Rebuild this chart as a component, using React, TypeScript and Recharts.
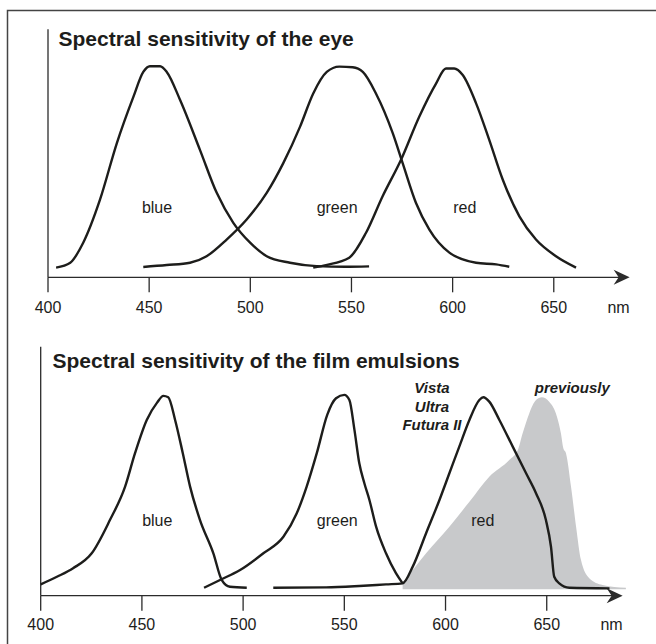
import React from 'react';
import {
  ComposedChart,
  Line,
  Area,
  XAxis,
  YAxis,
  ReferenceLine,
  ReferenceDot,
} from 'recharts';

const FONT = '"Liberation Sans", Arial, Helvetica, sans-serif';
const INK = '#1d1d1b';
const AXIS = '#2b2b2b';
const GREY = '#c8c9cb';

const TICKS = [400, 450, 500, 550, 600, 650];
const UNIT_AT = 682;
const AXIS_END = 687.5;
const X_DOMAIN: [number, number] = [400, 690];

// [wavelength nm, relative sensitivity %]
const eyeBlue = [
  [404, 4.6], [411, 6.9], [417.4, 16.4], [425.7, 36.8], [434, 63.5], [442.2, 85.5],
  [447.1, 97.3], [450.4, 100], [455.4, 100], [458.7, 97.3], [465.3, 84], [475.1, 60.4],
  [483.4, 40], [491.6, 25.8], [499.9, 16.4], [508.1, 10], [519.6, 6.9], [532.8, 5.3],
  [546.8, 5], [558.7, 5.2],
];
const eyeGreen = [
  [447.1, 4.9], [458.7, 5.8], [470.2, 6.9], [478.4, 10], [488.3, 17.9], [498.2, 27.4],
  [508.1, 40], [516.3, 54.1], [524.6, 71.4], [531.1, 87.1], [537.8, 97.3], [544, 99.8],
  [550.6, 99.5], [555.6, 97.3], [562.1, 87.1], [570.4, 68.3], [575.3, 54.1], [581.9, 35.2],
  [588.5, 22.6], [598.4, 11.7], [611.6, 6.9], [621.5, 6.1], [628, 5],
];
const eyeRed = [
  [531.1, 4.6], [537.4, 5.8], [548.9, 9.3], [557.2, 21.1], [565.4, 38.4], [574.5, 55.7],
  [583.5, 76.1], [591.8, 91.8], [596.7, 98.9], [600.8, 98.9], [605, 95.8], [611.6, 82.4],
  [618.1, 65.1], [624.8, 46.2], [633, 28.9], [641.2, 17.9], [651.1, 10], [661, 4.6],
];

const filmBlue = [
  [400, 5.7], [408, 9.5], [416, 13.8], [425.2, 21.3], [434.2, 38], [441.7, 54.8],
  [446.6, 71.6], [452.4, 88.3], [457.5, 97], [460.6, 100.4], [463, 99.7], [466.4, 88.3],
  [470.2, 71.6], [473.8, 54.8], [478.7, 38], [485.3, 21.3], [489.4, 8], [493.5, 4.5],
  [501.8, 4],
];
const filmGreen = [
  [480.7, 4], [488.6, 7.9], [498.5, 12.9], [510, 21.3], [519.9, 29.6], [526.5, 41.4],
  [531.4, 54.8], [536.4, 71.6], [541.6, 91], [545.9, 99.2], [550, 100.9], [552.5, 98.3],
  [555, 83.3], [557.4, 66.5], [559.9, 56.5], [562.4, 48.1], [565.7, 34.7], [570.6, 21.3],
  [575.5, 11.3], [578.8, 6.2],
];
const filmRed = [
  [514.9, 4], [541, 4.2], [557.4, 4.9], [570.6, 5.7], [578.8, 6.2], [583.8, 14.6],
  [590.4, 31.4], [597, 48.1], [601.9, 61.5], [606.8, 74.9], [611.8, 88.3], [616.7, 98.3],
  [618.7, 99.7], [621.6, 97.5], [626.6, 88.3], [633.2, 74.9], [639.8, 61.5], [644.7, 51.5],
  [649.6, 38], [652.1, 24.6], [653.7, 9.5], [656.2, 6.2], [661.2, 4], [681, 3.7],
];
const filmPrevious = [
  [578.8, 6.2], [590.4, 21.3], [601.9, 34.7], [611.8, 47.2], [621.6, 59.8], [631.5, 68.2],
  [635.7, 73.2], [638.1, 81.6], [641.4, 91.7], [644.7, 98.3], [647.6, 99.7], [651.2, 97.5],
  [654.5, 91.7], [657, 81.6], [658.2, 74.1], [659.5, 71.6], [662, 54.8], [664.5, 34.7],
  [666.9, 18], [671, 8.8], [677.6, 5.4], [689.1, 4],
];

const eyeLabels = [
  { text: 'blue', nm: 453.9, v: 30.6 },
  { text: 'green', nm: 542.9, v: 30.6 },
  { text: 'red', nm: 606, v: 30.6 },
];
const filmLabels = [
  { text: 'blue', nm: 457.6, v: 35.2 },
  { text: 'green', nm: 546.5, v: 35.2 },
  { text: 'red', nm: 618.4, v: 35.2 },
];
const filmNotes = [
  { text: 'Vista', nm: 593.3, v: 102 },
  { text: 'Ultra', nm: 593.3, v: 92.5 },
  { text: 'Futura II', nm: 593.3, v: 83 },
  { text: 'previously', nm: 662.6, v: 101.7 },
];

const rows = (pts: number[][]) => pts.map(([nm, v]) => ({ nm, v }));

const makeTick = (labelGap: number) => (props: any) => {
  const { x, y, payload } = props;
  if (payload.value === UNIT_AT) {
    return (
      <text x={x} y={y + labelGap} textAnchor="middle" fontSize={16} fill={INK} fontFamily={FONT}>
        nm
      </text>
    );
  }
  return (
    <g>
      <line x1={x} x2={x} y1={y} y2={y + 15} stroke={AXIS} strokeWidth={1.3} />
      <text x={x} y={y + labelGap} textAnchor="middle" fontSize={16} fill={INK} fontFamily={FONT}>
        {payload.value}
      </text>
    </g>
  );
};

const arrowAxis = (p: any) => {
  const { x1, y1, x2 } = p;
  return (
    <g>
      <line x1={x1} y1={y1} x2={x2 - 8} y2={y1} stroke={AXIS} strokeWidth={1.3} />
      <path
        d={`M${x2},${y1} L${x2 - 16},${y1 - 7.5} L${x2 - 11},${y1} L${x2 - 16},${y1 + 7.5} Z`}
        fill={AXIS}
      />
    </g>
  );
};

const textShape = (text: string, bold: boolean) => (p: any) => (
  <text
    x={p.cx}
    y={p.cy}
    textAnchor="middle"
    fontSize={bold ? 15 : 16}
    fontWeight={bold ? 'bold' : 'normal'}
    fontStyle={bold ? 'italic' : 'normal'}
    fill={INK}
    fontFamily={FONT}
  >
    {text}
  </text>
);

const curve = (key: string, pts: number[][]) => (
  <Line
    key={key}
    data={rows(pts)}
    dataKey="v"
    type="monotone"
    stroke={INK}
    strokeWidth={2.4}
    dot={false}
    activeDot={false}
    isAnimationActive={false}
  />
);

export default function App() {
  return (
    <div
      style={{
        position: 'absolute',
        left: 0,
        top: 0,
        width: 656,
        height: 644,
        overflow: 'hidden',
        background: '#fff',
      }}
    >
      <svg width={656} height={644} style={{ position: 'absolute', left: 0, top: 0 }}>
        <rect x={7.5} y={10.5} width={700} height={700} fill="none" stroke="#444" strokeWidth={1.5} />
        <text x={58.5} y={45.7} fontSize={21} fontWeight="bold" fill={INK} fontFamily={FONT}>
          Spectral sensitivity of the eye
        </text>
        <text x={52.5} y={368.3} fontSize={21} fontWeight="bold" fill={INK} fontFamily={FONT}>
          Spectral sensitivity of the film emulsions
        </text>
      </svg>

      <div style={{ position: 'absolute', left: 0, top: 0 }}>
        <ComposedChart width={656} height={320} margin={{ top: 29.3, right: 21.3, bottom: 0, left: 48 }}>
          <XAxis
            type="number"
            dataKey="nm"
            domain={X_DOMAIN}
            ticks={[...TICKS, UNIT_AT]}
            interval={0}
            axisLine={false}
            tickLine={false}
            tickSize={0}
            tickMargin={0}
            height={42.7}
            tick={makeTick(35.3)}
          />
          <YAxis hide domain={[0, 117.5]} />
          <ReferenceLine x={400} stroke={AXIS} strokeWidth={1.3} />
          <ReferenceLine
            segment={[{ x: 400, y: 0 }, { x: AXIS_END, y: 0 }]}
            ifOverflow="visible"
            shape={arrowAxis}
          />
          {curve('blue', eyeBlue)}
          {curve('green', eyeGreen)}
          {curve('red', eyeRed)}
          {eyeLabels.map((l) => (
            <ReferenceDot key={l.text} x={l.nm} y={l.v} ifOverflow="visible" shape={textShape(l.text, false)} />
          ))}
        </ComposedChart>
      </div>

      <div style={{ position: 'absolute', left: 0, top: 320 }}>
        <ComposedChart width={656} height={324} margin={{ top: 26.7, right: 28.3, bottom: 6.3, left: 40.7 }}>
          <XAxis
            type="number"
            dataKey="nm"
            domain={X_DOMAIN}
            ticks={[...TICKS, UNIT_AT]}
            interval={0}
            axisLine={false}
            tickLine={false}
            tickSize={0}
            tickMargin={0}
            height={42}
            tick={makeTick(33.8)}
          />
          <YAxis hide domain={[0, 125.1]} />
          <Area
            data={rows(filmPrevious)}
            dataKey="v"
            type="monotone"
            baseValue={3.2}
            stroke="none"
            fill={GREY}
            fillOpacity={1}
            dot={false}
            activeDot={false}
            isAnimationActive={false}
          />
          <ReferenceLine x={400} stroke={AXIS} strokeWidth={1.3} />
          <ReferenceLine
            segment={[{ x: 400, y: 0 }, { x: AXIS_END, y: 0 }]}
            ifOverflow="visible"
            shape={arrowAxis}
          />
          {curve('blue', filmBlue)}
          {curve('green', filmGreen)}
          {curve('red', filmRed)}
          {filmLabels.map((l) => (
            <ReferenceDot key={l.text} x={l.nm} y={l.v} ifOverflow="visible" shape={textShape(l.text, false)} />
          ))}
          {filmNotes.map((l) => (
            <ReferenceDot key={l.text} x={l.nm} y={l.v} ifOverflow="visible" shape={textShape(l.text, true)} />
          ))}
        </ComposedChart>
      </div>
    </div>
  );
}
